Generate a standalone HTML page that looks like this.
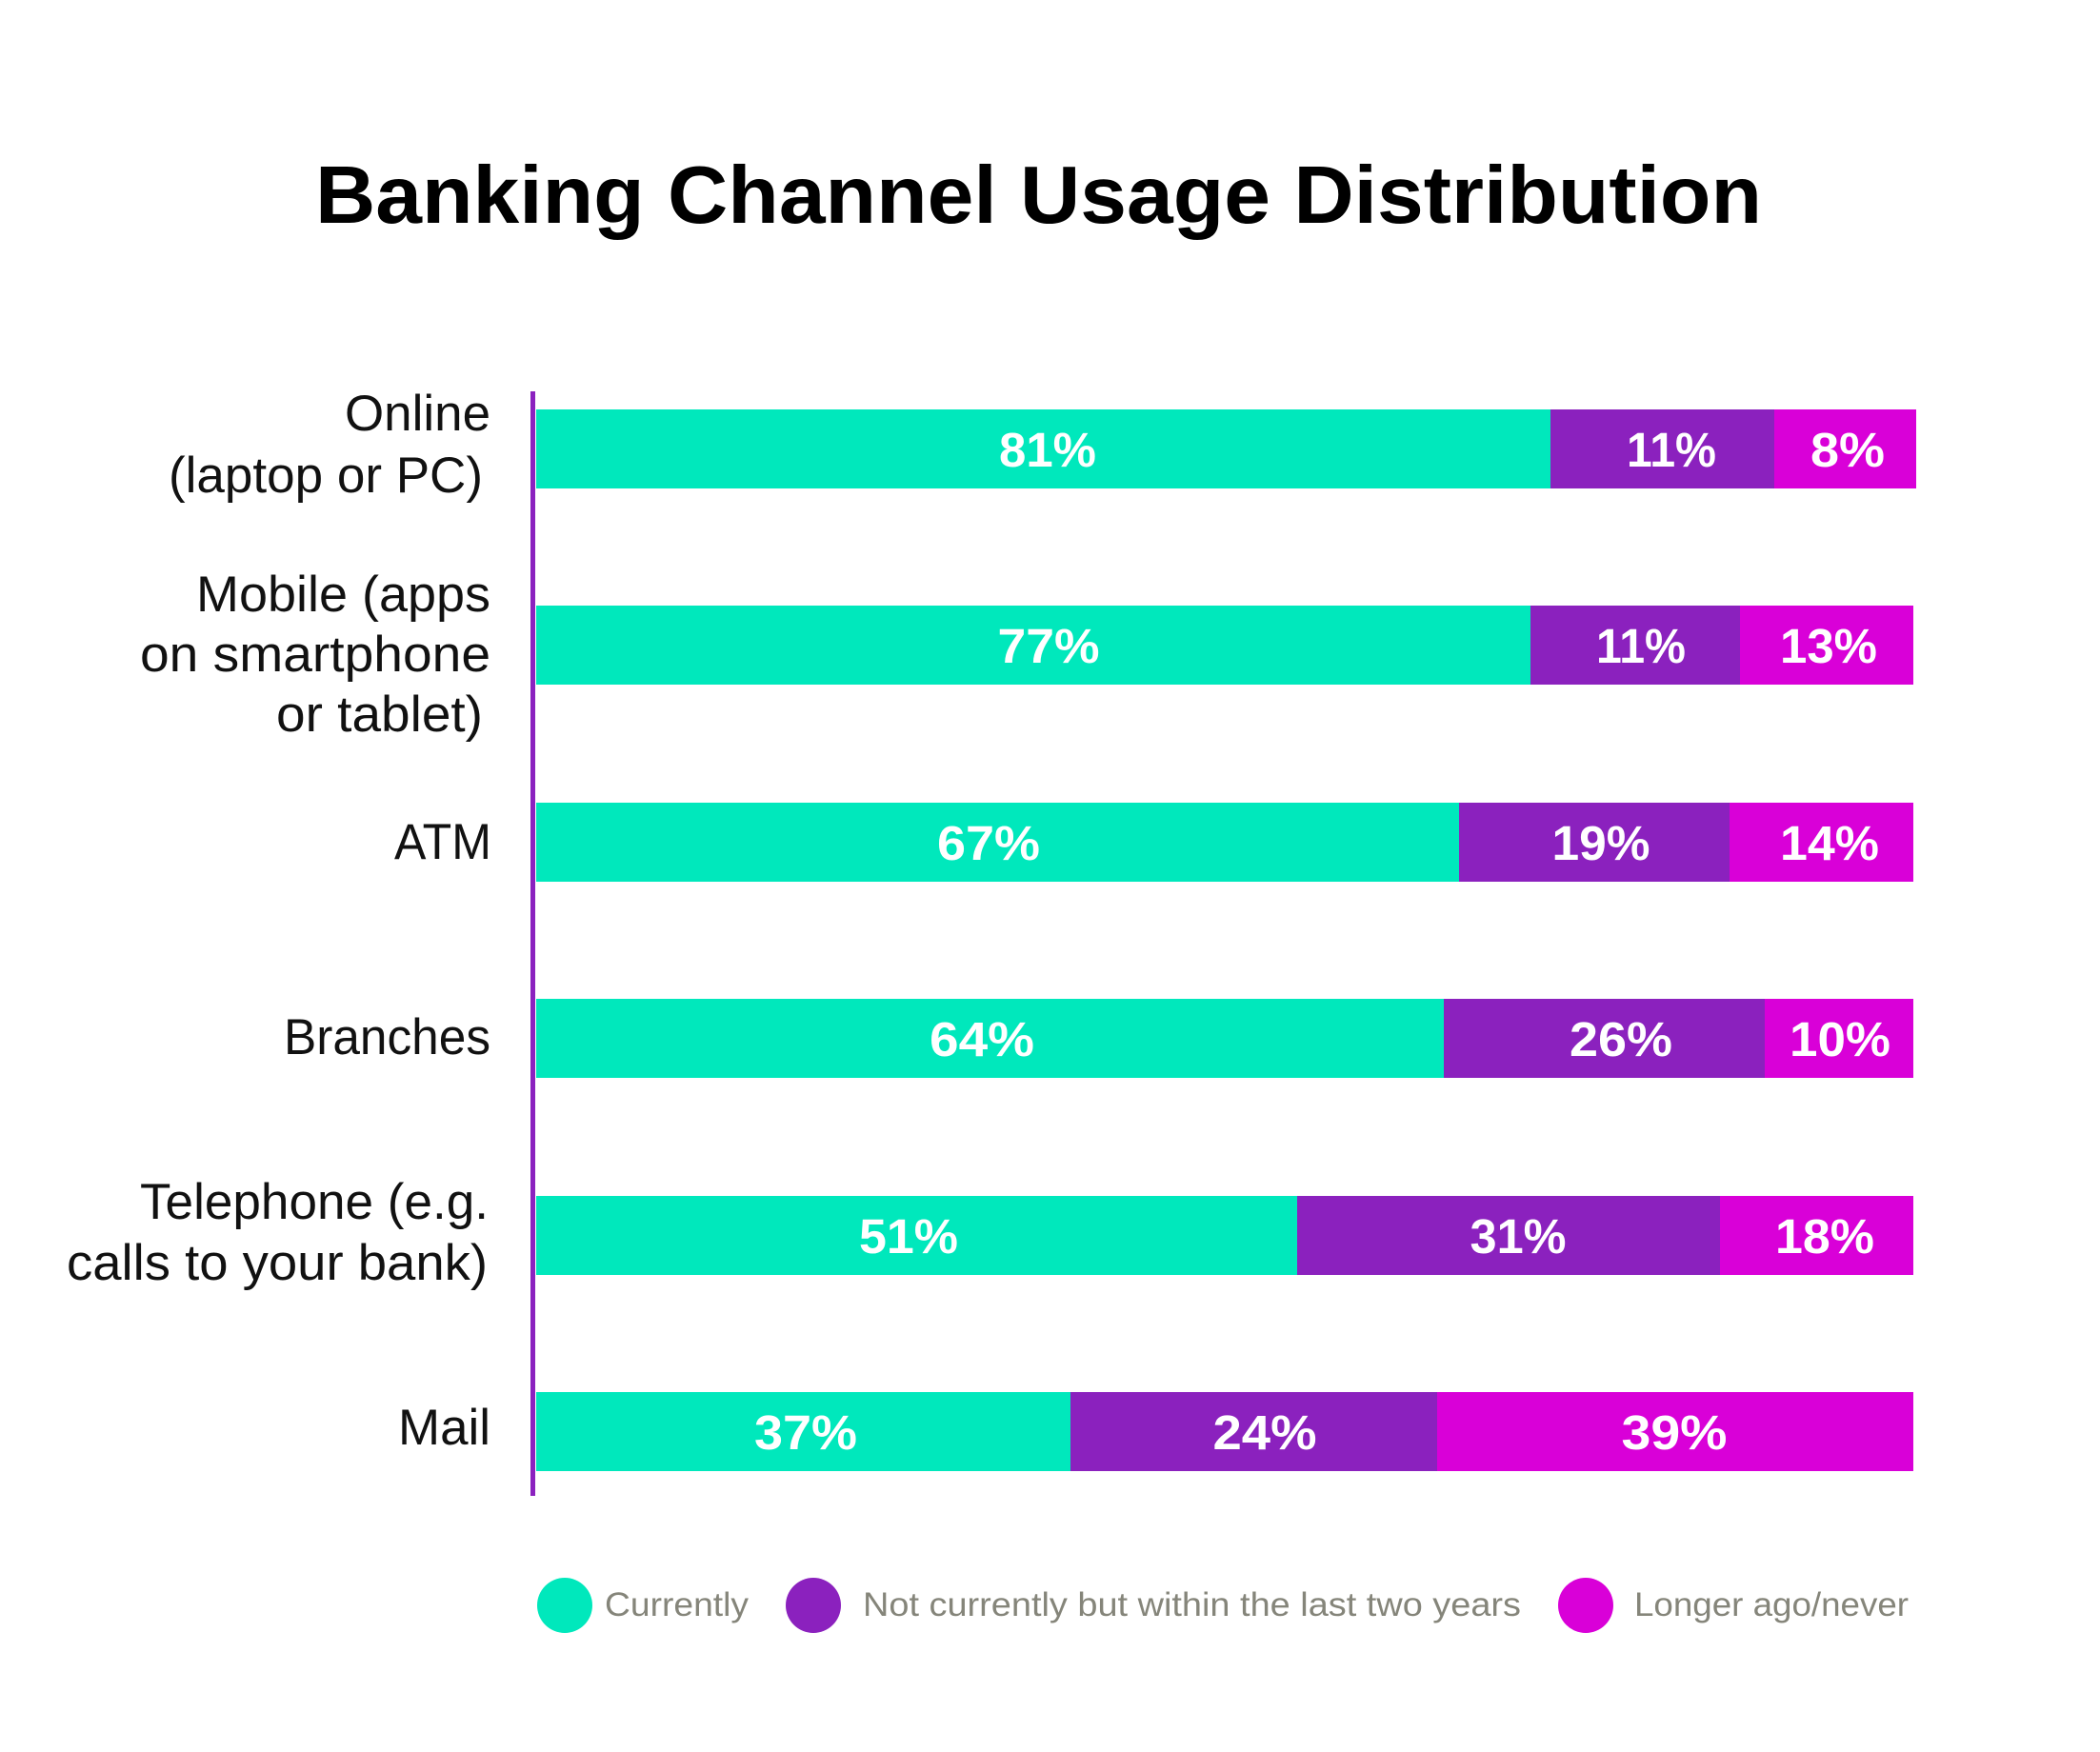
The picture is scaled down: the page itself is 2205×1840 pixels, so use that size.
<!DOCTYPE html>
<html>
<head>
<meta charset="utf-8">
<style>
  html, body { margin: 0; padding: 0; background: #ffffff; }
  svg { display: block; }
  text { font-family: "Liberation Sans", "DejaVu Sans", sans-serif; }
</style>
</head>
<body>
<svg width="2205" height="1840" viewBox="0 0 2205 1840" xmlns="http://www.w3.org/2000/svg">
  <rect x="0" y="0" width="2205" height="1840" fill="#ffffff"/>

  <!-- Title -->
  <text x="331" y="234" font-size="85" font-weight="bold" fill="#000" textLength="1519" lengthAdjust="spacingAndGlyphs">Banking Channel Usage Distribution</text>

  <!-- Axis -->
  <rect x="557" y="411" width="5" height="1160" fill="#8B22BF"/>

  <!-- Bar 1: Online -->
  <rect x="563" y="430" width="1065" height="83" fill="#00E8BC"/>
  <rect x="1628" y="430" width="235" height="83" fill="#8B21BE"/>
  <rect x="1863" y="430" width="149" height="83" fill="#D900D8"/>
  <!-- Bar 2: Mobile -->
  <rect x="563" y="636" width="1045" height="83" fill="#00E8BC"/>
  <rect x="1607" y="636" width="220" height="83" fill="#8B21BE"/>
  <rect x="1827" y="636" width="182" height="83" fill="#D900D8"/>
  <!-- Bar 3: ATM -->
  <rect x="563" y="843" width="969" height="83" fill="#00E8BC"/>
  <rect x="1532" y="843" width="284" height="83" fill="#8B21BE"/>
  <rect x="1816" y="843" width="193" height="83" fill="#D900D8"/>
  <!-- Bar 4: Branches -->
  <rect x="563" y="1049" width="953" height="83" fill="#00E8BC"/>
  <rect x="1516" y="1049" width="337" height="83" fill="#8B21BE"/>
  <rect x="1853" y="1049" width="156" height="83" fill="#D900D8"/>
  <!-- Bar 5: Telephone -->
  <rect x="563" y="1256" width="799" height="83" fill="#00E8BC"/>
  <rect x="1362" y="1256" width="444" height="83" fill="#8B21BE"/>
  <rect x="1806" y="1256" width="203" height="83" fill="#D900D8"/>
  <!-- Bar 6: Mail -->
  <rect x="563" y="1462" width="561" height="83" fill="#00E8BC"/>
  <rect x="1124" y="1462" width="385" height="83" fill="#8B21BE"/>
  <rect x="1509" y="1462" width="500" height="83" fill="#D900D8"/>

  <!-- Value labels -->
  <g font-size="51" font-weight="bold" fill="#ffffff" text-anchor="middle">
    <text x="1100" y="490" textLength="102" lengthAdjust="spacingAndGlyphs">81%</text>
    <text x="1755" y="490" textLength="94" lengthAdjust="spacingAndGlyphs">11%</text>
    <text x="1940" y="490" textLength="78" lengthAdjust="spacingAndGlyphs">8%</text>

    <text x="1101" y="696" textLength="107" lengthAdjust="spacingAndGlyphs">77%</text>
    <text x="1723" y="696" textLength="94" lengthAdjust="spacingAndGlyphs">11%</text>
    <text x="1920" y="696" textLength="102" lengthAdjust="spacingAndGlyphs">13%</text>

    <text x="1038" y="903" textLength="108" lengthAdjust="spacingAndGlyphs">67%</text>
    <text x="1681" y="903" textLength="103" lengthAdjust="spacingAndGlyphs">19%</text>
    <text x="1921" y="903" textLength="104" lengthAdjust="spacingAndGlyphs">14%</text>

    <text x="1031" y="1109" textLength="110" lengthAdjust="spacingAndGlyphs">64%</text>
    <text x="1702" y="1109" textLength="108" lengthAdjust="spacingAndGlyphs">26%</text>
    <text x="1932" y="1109" textLength="106" lengthAdjust="spacingAndGlyphs">10%</text>

    <text x="954" y="1316" textLength="104" lengthAdjust="spacingAndGlyphs">51%</text>
    <text x="1594" y="1316" textLength="101" lengthAdjust="spacingAndGlyphs">31%</text>
    <text x="1916" y="1316" textLength="104" lengthAdjust="spacingAndGlyphs">18%</text>

    <text x="846" y="1522" textLength="108" lengthAdjust="spacingAndGlyphs">37%</text>
    <text x="1328" y="1522" textLength="109" lengthAdjust="spacingAndGlyphs">24%</text>
    <text x="1758" y="1522" textLength="111" lengthAdjust="spacingAndGlyphs">39%</text>
  </g>

  <!-- Category labels -->
  <g font-size="53" fill="#111111">
    <text x="362" y="452" textLength="153" lengthAdjust="spacingAndGlyphs">Online</text>
    <text x="177" y="517" textLength="330" lengthAdjust="spacingAndGlyphs">(laptop or PC)</text>

    <text x="206" y="642" textLength="309" lengthAdjust="spacingAndGlyphs">Mobile  (apps</text>
    <text x="147" y="705" textLength="368" lengthAdjust="spacingAndGlyphs">on smartphone</text>
    <text x="290" y="768" textLength="217" lengthAdjust="spacingAndGlyphs">or tablet)</text>

    <text x="414" y="902" textLength="102" lengthAdjust="spacingAndGlyphs">ATM</text>

    <text x="298" y="1107" textLength="217" lengthAdjust="spacingAndGlyphs">Branches</text>

    <text x="147" y="1280" textLength="366" lengthAdjust="spacingAndGlyphs">Telephone  (e.g.</text>
    <text x="70" y="1344" textLength="442" lengthAdjust="spacingAndGlyphs">calls to your bank)</text>

    <text x="418" y="1517" textLength="97" lengthAdjust="spacingAndGlyphs">Mail</text>
  </g>

  <!-- Legend -->
  <circle cx="593" cy="1686" r="29" fill="#00E8BC"/>
  <circle cx="854" cy="1686" r="29" fill="#8B21BE"/>
  <circle cx="1665" cy="1686" r="29" fill="#D900D8"/>
  <g font-size="35" fill="#85857A">
    <text x="635" y="1697" textLength="151" lengthAdjust="spacingAndGlyphs">Currently</text>
    <text x="906" y="1697" textLength="691" lengthAdjust="spacingAndGlyphs">Not currently but within the last two years</text>
    <text x="1716" y="1697" textLength="288" lengthAdjust="spacingAndGlyphs">Longer ago/never</text>
  </g>
</svg>
</body>
</html>
